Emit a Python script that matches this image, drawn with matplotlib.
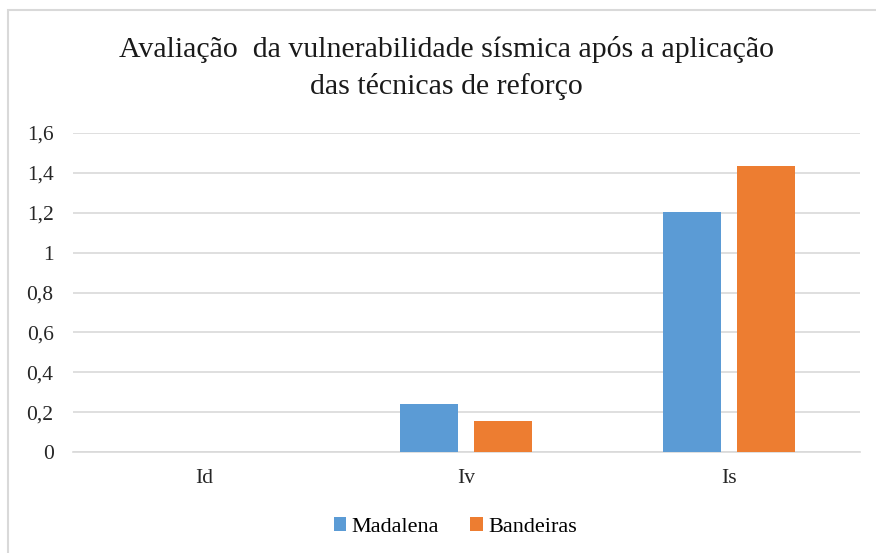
import matplotlib.pyplot as plt
import numpy as np
from matplotlib.patches import Rectangle

categorias = ["Id", "Iv", "Is"]
madalena = [0, 0.24, 1.206]
bandeiras = [0, 0.155, 1.433]
yticks = [0, 0.2, 0.4, 0.6, 0.8, 1, 1.2, 1.4, 1.6]

plt.rcParams['font.family'] = ['Liberation Serif', 'DejaVu Serif']

fig = plt.figure(figsize=(8.76, 5.53), dpi=100)
ax = fig.add_axes([0.0833, 0.1826, 0.8984, 0.5769])

# moldura da área do gráfico
fig.patches.append(Rectangle((8 / 876, -0.1), 2, 1.1 - 10 / 553,
                             transform=fig.transFigure, fill=False,
                             edgecolor='#d9d9d9', linewidth=1.5))

x = np.arange(len(categorias))
w = 0.221
gap = 0.061
ax.bar(x - (w + gap) / 2, madalena, w, color='#5b9bd5', label='Madalena', zorder=3)
ax.bar(x + (w + gap) / 2, bandeiras, w, color='#ed7d31', label='Bandeiras', zorder=3)

ax.set_xlim(-0.5, 2.5)
ax.set_ylim(0, 1.6)
ax.set_yticks(yticks)
ax.set_yticklabels([str(v).replace('.', ',') for v in yticks])
ax.set_xticks(x)
ax.set_xticklabels(categorias)
ax.tick_params(axis='both', length=0, labelsize=15.5, colors='#262626')
ax.tick_params(axis='y', pad=14)
ax.tick_params(axis='x', pad=12)
ax.grid(axis='y', color='#d9d9d9', linewidth=1.2, zorder=0)
for s in ['top', 'right', 'left']:
    ax.spines[s].set_visible(False)
ax.spines['bottom'].set_color('#d9d9d9')
ax.spines['bottom'].set_linewidth(1.2)

fig.text(0.51, 0.877, "Avaliação  da vulnerabilidade sísmica após a aplicação\ndas técnicas de reforço",
         ha='center', va='center', fontsize=21.5, color='#1a1a1a', linespacing=1.45)

fig.legend(loc='center', bbox_to_anchor=(0.52, 0.047), ncol=2, frameon=False,
           fontsize=16, handlelength=0.55, handleheight=0.55, handletextpad=0.25,
           columnspacing=1.4)

fig.savefig('out.png', dpi=100)
